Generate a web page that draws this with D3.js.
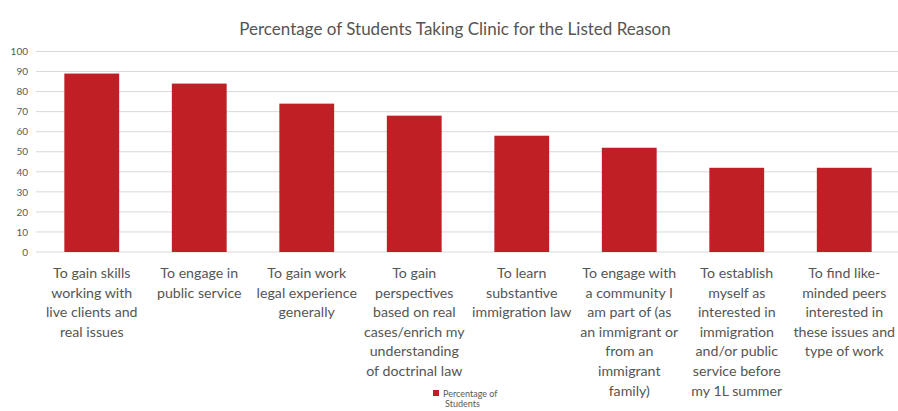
<!DOCTYPE html>
<html><head><meta charset="utf-8">
<script src="https://cdn.jsdelivr.net/npm/d3@7"></script>
<style>
html,body{margin:0;padding:0;background:#fff;}
svg{display:block;font-family:Lato,"Open Sans",sans-serif;}
</style></head>
<body><svg id="c" width="898" height="411"></svg>
<script>
const categories = [
  "To gain skills\nworking with\nlive clients and\nreal issues",
  "To engage in\npublic service",
  "To gain work\nlegal experience\ngenerally",
  "To gain\nperspectives\nbased on real\ncases/enrich my\nunderstanding\nof doctrinal law",
  "To learn\nsubstantive\nimmigration law",
  "To engage with\na community I\nam part of (as\nan immigrant or\nfrom an\nimmigrant\nfamily)",
  "To establish\nmyself as\ninterested in\nimmigration\nand/or public\nservice before\nmy 1L summer",
  "To find like-\nminded peers\ninterested in\nthese issues and\ntype of work"
];
const values = [89, 84, 74, 68, 58, 52, 42, 42];
const yTicks = [0,10,20,30,40,50,60,70,80,90,100];
const title = "Percentage of Students Taking Clinic for the Listed Reason";
const seriesName = "Percentage of Students";

const svg = d3.select("#c");
const x = d3.scaleBand().domain(categories).range([38, 898]).paddingInner(0.49).paddingOuter(0.245);
const y = d3.scaleLinear().domain([0,100]).range([252, 51.5]);

// gridlines
svg.append("g").selectAll("line").data(yTicks).join("line")
  .attr("x1", 36).attr("x2", 898)
  .attr("y1", d=>y(d)).attr("y2", d=>y(d))
  .attr("stroke", "#d9d9d9").attr("stroke-width", 1);

// y axis labels
const ya = svg.append("g").attr("transform","translate(28,0)")
  .call(d3.axisLeft(y).tickValues(yTicks).tickSize(0).tickPadding(0));
ya.select(".domain").remove();
ya.selectAll("text").attr("fill","#595959").style("font-size","10px").style("font-family","Lato,sans-serif");

// bars
svg.append("g").selectAll("rect").data(values).join("rect")
  .attr("x", (d,i)=>x(categories[i]))
  .attr("width", x.bandwidth())
  .attr("y", d=>y(d))
  .attr("height", d=>y(0)-y(d))
  .attr("fill", "#c01f26");

// category labels
const xa = svg.append("g").attr("transform",`translate(0,${y(0)})`)
  .call(d3.axisBottom(x).tickSize(0).tickFormat(""));
xa.select(".domain").remove();
xa.selectAll(".tick").each(function(d){
  const t = d3.select(this).append("text")
    .attr("fill","#555555").attr("text-anchor","middle")
    .style("font-size","14.2px").style("font-family","Lato,sans-serif");
  d.split("\n").forEach((ln,j)=>{
    t.append("tspan").attr("x",0).attr("y", 26 + j*19.6).text(ln);
  });
});

// title
svg.append("text").attr("x", 455).attr("y", 35).attr("text-anchor","middle")
  .attr("fill","#555555").style("font-size","17px").text(title);

// legend
const lg = svg.append("g").attr("transform","translate(433,390)");
lg.append("rect").attr("width",6).attr("height",6).attr("fill","#c01f26");
const lt = lg.append("text").attr("fill","#595959").style("font-size","9px");
lt.append("tspan").attr("x",10).attr("y",7).text("Percentage of");
lt.append("tspan").attr("x",12).attr("y",17).text("Students");
</script></body></html>
